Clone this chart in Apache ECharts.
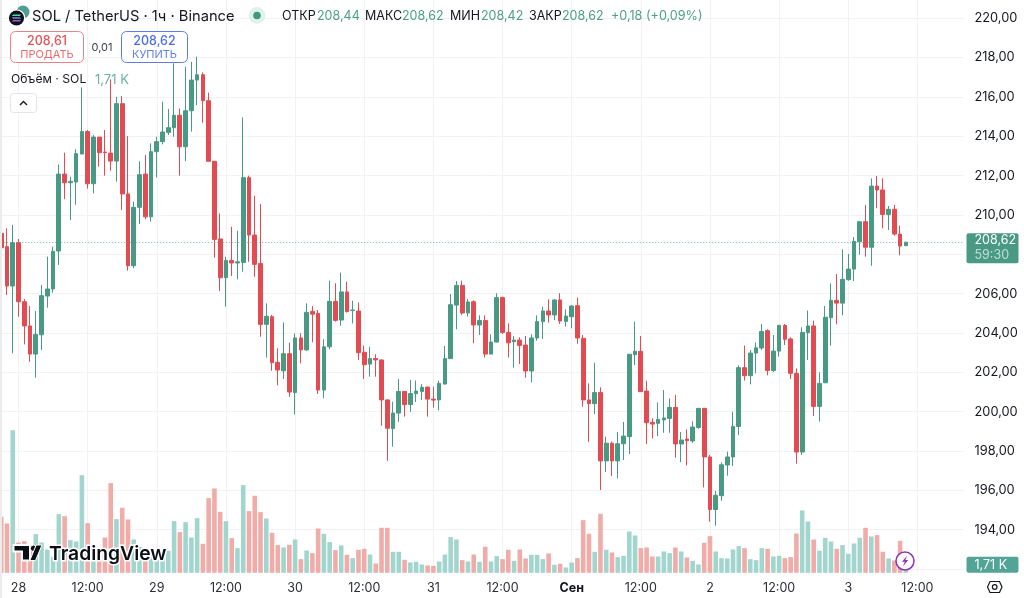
<!DOCTYPE html>
<html><head><meta charset="utf-8">
<style>html,body{margin:0;padding:0;background:#fff}#c{width:1024px;height:598px}</style>
<script src="https://cdn.jsdelivr.net/npm/echarts@6/dist/echarts.min.js"></script>
</head><body><div id="c"></div>
<script>
const opens=[209.07,208.39,206.39,208.59,205.59,204.36,202.93,203.91,205.88,206.24,208.17,212.08,211.64,211.68,213.10,214.24,211.59,213.96,213.20,213.15,212.74,215.66,211.07,207.42,210.39,212.08,209.91,213.22,213.73,214.20,214.44,215.07,213.47,215.30,216.86,217.13,215.81,212.73,208.78,206.81,207.69,207.56,207.59,211.90,208.98,207.54,204.44,204.83,202.51,202.08,202.95,200.98,203.75,203.14,205.10,205.00,201.10,203.30,205.61,204.66,206.09,205.14,205.12,203.02,202.42,202.70,202.63,200.60,199.14,199.93,201.03,200.37,200.92,201.03,201.25,200.64,200.60,201.41,202.70,205.42,206.42,205.02,205.59,204.41,204.64,202.93,203.54,205.80,204.03,203.56,203.64,203.39,202.07,203.75,204.58,205.12,204.92,205.68,204.59,204.83,205.39,203.73,200.60,200.41,200.97,197.50,198.40,197.50,198.37,198.73,202.90,203.07,201.05,199.46,199.41,199.58,199.66,200.22,198.36,198.61,198.51,199.20,200.17,197.70,195.03,195.73,197.29,197.70,199.25,202.24,201.83,202.98,203.24,204.12,202.10,203.08,204.39,203.70,201.95,197.95,204.02,204.36,200.27,201.47,204.78,205.66,205.52,206.71,207.25,208.64,209.66,208.36,211.47,211.27,210.02,210.29,209.03,208.44];
const closes=[208.34,206.39,208.59,205.59,204.36,202.93,203.93,205.90,206.24,208.15,212.08,211.64,211.71,213.12,214.24,211.59,213.96,213.17,213.17,212.74,215.66,211.07,207.42,210.39,212.05,209.91,213.22,213.73,214.22,214.44,215.07,213.47,215.30,216.86,217.13,215.81,212.73,208.76,206.81,207.69,207.56,207.62,211.90,208.98,207.49,204.44,204.85,202.49,202.12,202.95,201.00,203.75,203.14,205.05,204.96,201.10,203.30,205.61,204.64,206.09,205.09,205.17,203.00,202.39,202.70,202.63,200.60,199.16,199.93,201.03,200.36,200.92,201.05,201.24,200.64,200.59,201.44,202.70,205.44,206.42,205.02,205.58,204.41,204.64,202.93,203.54,205.80,204.03,203.50,203.64,203.37,202.07,203.75,204.58,205.12,204.92,205.68,204.61,204.86,205.37,203.75,200.60,200.41,200.97,197.50,198.40,197.50,198.37,198.76,202.92,203.07,201.02,199.44,199.37,199.61,199.68,200.22,198.36,198.56,198.52,199.22,200.17,197.70,195.03,195.75,197.30,197.70,199.25,202.24,201.83,202.98,203.25,204.08,202.10,203.08,204.39,203.68,201.95,197.95,204.03,204.36,200.27,201.44,204.80,205.66,205.52,206.73,207.25,208.66,209.66,208.36,211.47,211.27,210.03,210.29,209.03,208.42,208.62];
const lows=[208.34,205.93,202.97,204.83,203.42,202.54,201.73,203.14,205.29,206.05,207.46,210.80,209.74,210.52,213.10,211.34,211.10,212.46,212.00,212.25,211.69,210.25,207.17,207.29,209.54,209.79,209.66,211.91,213.59,214.07,213.98,212.00,212.74,214.24,215.59,214.69,212.73,207.83,206.13,205.34,206.90,206.73,207.12,207.62,206.86,203.81,202.75,202.08,201.34,201.66,200.76,199.86,202.46,203.10,203.53,200.90,200.68,203.17,204.58,204.37,205.04,204.49,202.63,201.66,201.78,201.78,199.29,197.50,198.22,199.48,199.75,200.00,200.49,200.59,199.75,200.20,200.07,201.37,202.70,204.19,204.92,204.83,203.48,203.90,202.75,202.92,203.52,203.95,202.75,202.24,202.42,201.73,201.49,203.61,203.70,204.53,204.66,204.46,204.32,204.24,203.46,200.25,198.47,199.88,196.02,196.93,196.73,196.61,197.54,197.85,202.37,201.02,198.36,198.64,198.76,198.93,198.93,197.66,197.44,197.27,198.42,199.13,196.15,194.41,194.20,195.47,196.75,197.24,198.81,201.58,201.39,201.95,203.13,201.85,202.02,202.80,203.39,201.66,197.36,197.80,202.63,199.78,199.49,201.47,203.36,204.44,204.90,206.66,206.64,207.98,207.88,207.42,210.34,209.32,209.24,208.95,207.95,208.42];
const highs=[209.20,209.32,209.49,208.78,205.73,205.37,205.12,206.44,207.88,208.39,212.57,213.17,211.95,213.34,216.49,214.32,214.07,213.96,214.32,216.90,216.01,216.05,214.01,210.68,212.73,213.05,213.64,213.98,215.76,215.39,217.71,215.42,217.54,217.79,218.05,217.25,216.22,212.73,210.08,207.88,209.40,209.20,214.96,212.00,210.98,210.56,205.51,204.92,203.22,204.54,203.51,203.98,203.98,205.51,205.37,205.17,203.69,206.66,206.53,207.07,206.61,205.64,205.56,203.36,203.30,202.92,202.66,200.63,200.51,201.66,201.03,201.61,201.58,201.41,201.27,201.27,201.58,203.34,205.98,206.64,206.66,205.73,205.66,204.90,204.90,203.93,206.02,205.85,204.49,203.85,203.78,203.85,203.93,204.90,205.34,205.71,205.73,206.02,205.20,205.42,205.80,203.90,201.44,202.49,201.24,198.73,198.48,198.97,199.48,202.92,204.58,203.85,201.58,199.66,200.47,201.10,200.68,200.86,198.97,199.10,199.51,200.17,200.17,197.80,195.97,197.42,197.97,200.00,202.36,203.36,203.14,203.52,204.46,204.19,203.90,204.39,204.46,203.78,202.20,204.29,205.14,204.63,202.00,205.37,206.52,207.00,208.25,208.02,208.88,209.66,210.51,211.86,211.98,211.86,210.46,210.51,209.46,208.62];
const volumes=[10.08,8.88,25.68,5.46,5.70,4.68,6.96,5.46,4.20,2.88,10.56,10.20,5.88,5.64,17.58,8.94,2.28,2.28,6.36,16.14,9.66,11.70,9.60,6.00,4.68,3.48,3.78,2.28,2.58,3.96,9.30,7.32,9.12,6.36,9.84,5.22,13.44,15.18,10.98,9.30,6.24,4.44,15.78,11.10,13.86,10.92,9.78,7.20,4.98,4.56,5.04,6.00,2.46,4.02,3.54,7.98,7.02,5.52,4.08,4.92,3.24,2.64,4.14,4.32,3.30,1.68,8.10,8.10,3.78,3.78,2.34,1.86,1.98,1.50,1.32,1.26,2.04,3.30,6.42,6.00,2.28,2.04,3.30,1.98,4.68,2.04,3.00,2.46,4.14,2.16,4.20,2.58,3.24,3.24,2.46,3.48,1.44,1.62,0.96,1.86,2.64,9.48,7.02,3.78,10.62,4.14,3.66,2.82,3.06,7.44,6.72,4.44,4.56,2.94,2.94,3.84,3.54,4.56,3.84,2.76,2.16,1.50,5.40,6.60,3.84,2.64,2.58,4.20,4.80,4.44,2.46,2.28,4.44,4.32,2.94,3.06,2.64,2.82,7.08,11.22,9.24,6.00,3.96,6.30,5.64,4.32,4.98,3.42,5.28,6.30,8.10,6.54,6.78,3.78,2.58,2.22,5.76,1.71];
const tickLabels=['28','12:00','29','12:00','30','12:00','31','12:00','Сен','12:00','2','12:00','3','12:00'];
const priceTicks={min:192,max:222,step:2};
const lastPrice=208.62, lastVolume=1.71;

const FONT='Inter, "Noto Sans", sans-serif';
const GREEN='#489a84', RED='#e34b52', VGREEN='#a3d5cf', VRED='#f0aca8', GRID='#f1f2f4', INK='#131722';
const FIRST_TICK=3, PER_TICK=12, SLOTS=168;
const categories=Array.from({length:SLOTS},(_,i)=>{
  const k=(i-FIRST_TICK)/PER_TICK;
  return Number.isInteger(k)&&tickLabels[k]?tickLabels[k]:'h'+i;
});
const candles=opens.map((o,i)=>[o,closes[i],lows[i],highs[i]]);
const isTick=i=>i>=FIRST_TICK&&(i-FIRST_TICK)%PER_TICK===0;

function T(text,x,y,size,fill,weight,align,extra){
  return {type:'text',x,y:y+0.8,z:50,silent:true,style:Object.assign({text,fill,font:(weight||400)+' '+size+'px '+FONT,textAlign:align||'left',textVerticalAlign:'middle'},extra||{})};
}
const G=[
 {type:'rect',shape:{x:0,y:0,width:2,height:598},style:{fill:'#ececec'},z:60,silent:true},
 {type:'circle',shape:{cx:23,cy:12,r:6.5},style:{fill:'#4e9c93'},z:50,silent:true},
 {type:'circle',shape:{cx:16.5,cy:18,r:8.8},style:{fill:'#fff'},z:50,silent:true},
 {type:'circle',shape:{cx:16.5,cy:18,r:7.6},style:{fill:'#10121a'},z:50,silent:true},
 {type:'polygon',shape:{points:[[13,14.5],[21,14.5],[20,16],[12,16]]},style:{fill:'#45d6b5'},z:51,silent:true},
 {type:'polygon',shape:{points:[[12,17.3],[20,17.3],[21,18.8],[13,18.8]]},style:{fill:'#7a8be0'},z:51,silent:true},
 {type:'polygon',shape:{points:[[13,20],[21,20],[20,21.5],[12,21.5]]},style:{fill:'#a45ad8'},z:51,silent:true},
 T('SOL / TetherUS · 1ч · Binance',32,15.5,14.7,INK,400),
 {type:'circle',shape:{cx:257,cy:15.5,r:8.5},style:{fill:'#e2f1ed'},z:50,silent:true},
 {type:'circle',shape:{cx:257,cy:15.5,r:3.8},style:{fill:'#3f9a82'},z:51,silent:true},
 T('ОТКР',282,15.5,12.5,INK),T('208,44',317,15.5,12.5,'#4aa088'),
 T('МАКС',365,15.5,12.5,INK),T('208,62',402,15.5,12.5,'#4aa088'),
 T('МИН',450,15.5,12.5,INK),T('208,42',481,15.5,12.5,'#4aa088'),
 T('ЗАКР',529,15.5,12.5,INK),T('208,62',562,15.5,12.5,'#4aa088'),
 T('+0,18 (+0,09%)',611,15.5,12.6,'#4aa088'),
 {type:'rect',shape:{x:10.5,y:31.5,width:73,height:31,r:5},style:{fill:'#fff',stroke:'#ee8187',lineWidth:1},z:50,silent:true},
 T('208,61',47,40.5,12.5,'#e3525a',500,'center'),
 T('ПРОДАТЬ',47,53.5,11,'#ea6a70',400,'center'),
 T('0,01',102,47,11,'#3a3e4a',400,'center'),
 {type:'rect',shape:{x:121.5,y:31.5,width:66,height:31,r:5},style:{fill:'#fff',stroke:'#5c7df0',lineWidth:1},z:50,silent:true},
 T('208,62',154.5,40.5,12.5,'#4a6fea',500,'center'),
 T('КУПИТЬ',154.5,53.5,11,'#5f80ee',400,'center'),
 T('Объём · SOL',11,79,12.2,INK),
 T('1,71 K',95,79,13,'#68b3a3'),
 {type:'rect',shape:{x:10.5,y:93.5,width:26,height:19,r:3},style:{fill:'#fff',stroke:'#e3e5ea',lineWidth:1},z:50,silent:true},
 {type:'polyline',shape:{points:[[20,105],[23.5,101.5],[27,105]]},style:{stroke:INK,lineWidth:1.4,fill:'none'},z:51,silent:true},
 {type:'polygon',shape:{points:[[13.5,545],[30,545],[30,560.5],[22,560.5],[22,551.5],[13.5,551.5]]},style:{fill:'#0b0e14',stroke:'#fff',lineWidth:2},z:55,silent:true},
 {type:'circle',shape:{cx:33.5,cy:548.3,r:3.2},style:{fill:'#0b0e14',stroke:'#fff',lineWidth:1},z:55,silent:true},
 {type:'polygon',shape:{points:[[36.2,545],[42,545],[35.5,560.5],[29.8,560.5]]},style:{fill:'#0b0e14',stroke:'#fff',lineWidth:1},z:55,silent:true},
 T('TradingView',49,553,19.3,'#0b0e14',600,'left',{stroke:'#fff',lineWidth:3}),
 {type:'circle',shape:{cx:905,cy:561,r:9},style:{fill:'#fff',stroke:'#8e32b8',lineWidth:1.5},z:55,silent:true},
 {type:'polygon',shape:{points:[[907,555.8],[902,561.8],[904.8,561.8],[903,566.2],[908.2,560],[905.4,560]]},style:{fill:'#8e32b8'},z:56,silent:true},
 {type:'polygon',shape:{points:[[990,581.5],[999.5,581.5],[1002,587],[999.5,592.5],[990,592.5],[987.5,587]]},style:{fill:'none',stroke:INK,lineWidth:1.2},z:50,silent:true},
 {type:'circle',shape:{cx:994.7,cy:587,r:2.3},style:{fill:'none',stroke:INK,lineWidth:1.2},z:50,silent:true},
];

const left=1.22, right=1024-963.5;
const chart=echarts.init(document.getElementById('c'),null,{width:1024,height:598});
chart.setOption({
 animation:false,
 backgroundColor:'#fff',
 textStyle:{fontFamily:FONT},
 grid:[
  {left,right,top:-21.04,height:590.1,outerBoundsMode:'none'},
  {left,right,top:0,height:572.8,outerBoundsMode:'none'}
 ],
 xAxis:[
  {type:'category',gridIndex:0,data:categories,boundaryGap:false,show:true,
   axisLine:{show:false},axisTick:{show:false},axisLabel:{show:false},splitLine:{show:false}},
  {type:'category',gridIndex:1,data:categories,boundaryGap:false,
   axisLine:{show:false},axisTick:{show:false},
   splitLine:{show:true,interval:i=>isTick(i),lineStyle:{color:GRID,width:1}},
   axisLabel:{interval:i=>isTick(i),margin:9,fontSize:12.5,fontFamily:FONT,color:'#2a2e39',hideOverlap:false,
     formatter:v=>v==='Сен'?'{b|Сен}':v,rich:{b:{fontWeight:700,fontSize:12.5,fontFamily:FONT,color:INK}}}}
 ],
 yAxis:[
  {type:'value',gridIndex:0,position:'right',min:priceTicks.min,max:priceTicks.max,interval:priceTicks.step,
   axisLine:{show:false},axisTick:{show:false},
   splitLine:{show:true,lineStyle:{color:GRID,width:1}},
   axisLabel:{margin:11,fontSize:12.8,fontFamily:FONT,color:INK,
     formatter:v=>(v===192||v===208||v===222)?'':v.toFixed(2).replace('.',',')}},
  {type:'value',gridIndex:1,position:'right',min:0,max:103.1,show:false,splitLine:{show:false}}
 ],
 graphic:G,
 series:[
  {type:'bar',name:'Объём',xAxisIndex:1,yAxisIndex:1,barWidth:4.6,z:2,
   data:volumes.map((v,i)=>({value:v,itemStyle:{color:closes[i]>=opens[i]?VGREEN:VRED}})),
   markLine:{silent:true,symbol:'none',z:20,lineStyle:{color:'rgba(0,0,0,0)'},
     data:[{yAxis:lastVolume}],
     label:{show:true,position:'end',distance:3,offset:[0,1.5],backgroundColor:'#52a596',borderRadius:2,padding:[0,0,0,8],
       width:44,height:16,lineHeight:16,color:'#fff',fontSize:12.5,fontFamily:FONT,formatter:'1,71 K'}}},
  {type:'candlestick',name:'SOL',xAxisIndex:0,yAxisIndex:0,barWidth:4.2,z:3,
   itemStyle:{color:GREEN,color0:RED,borderColor:GREEN,borderColor0:RED,borderWidth:1},
   data:candles,
   markLine:{silent:true,symbol:'none',z:20,
     lineStyle:{color:'rgba(72,154,132,.75)',type:[1,2],width:1},
     data:[{yAxis:lastPrice}],
     label:{show:true,position:'end',distance:3,offset:[0,6],backgroundColor:'#489a84',borderRadius:2,padding:[0,0,0,8],
       width:44,height:30,formatter:'{a|208,62}\n{b|59:30}',
       rich:{a:{color:'#fff',fontSize:12.5,lineHeight:15,fontFamily:FONT,align:'left'},
             b:{color:'rgba(255,255,255,.65)',fontSize:12.5,lineHeight:15,fontFamily:FONT,align:'left'}}}}}
 ]
});
</script></body></html>
